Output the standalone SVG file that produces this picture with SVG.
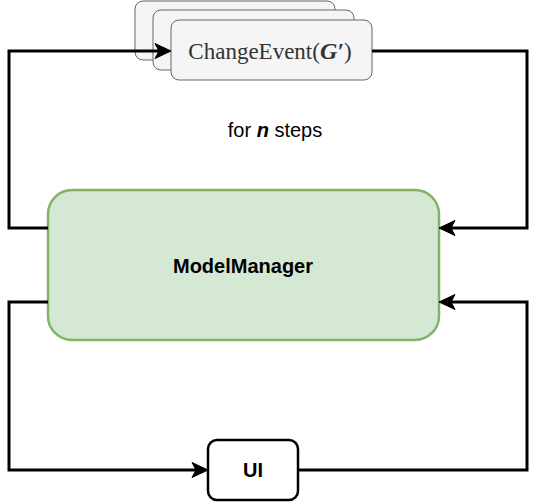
<svg xmlns="http://www.w3.org/2000/svg" width="540" height="502" viewBox="0 0 540 502">
  <style>
    .card { fill: #f5f5f5; stroke: #666666; stroke-width: 1; }
    .conn { fill: none; stroke: #000000; stroke-width: 3; stroke-linejoin: miter; }
    .lbl { font-family: "Liberation Sans", Arial, sans-serif; font-size: 20px; fill: #000000; }
    .serif { font-family: "Liberation Serif", "Times New Roman", serif; font-size: 23px; fill: #333333; }
  </style>
  <defs>
    <marker id="arrow" viewBox="0 0 18 18" markerUnits="userSpaceOnUse" markerWidth="18" markerHeight="18" refX="11" refY="9" orient="auto">
      <path d="M17,9 L1,1.5 L5,9 L1,16.5 Z" fill="#000000" stroke="#000000" stroke-width="1"/>
    </marker>
  </defs>

  <g id="change-event">
    <rect class="card" x="135" y="1" width="200" height="59" rx="8"/>
    <rect class="card" x="153" y="10" width="201" height="60" rx="8"/>
    <rect class="card" x="171" y="20" width="201" height="60" rx="8"/>
    <text class="serif" x="270" y="59" text-anchor="middle">ChangeEvent(<tspan font-style="italic" font-weight="bold" font-size="24">G′</tspan>)</text>
  </g>

  <g id="for-n-steps">
    <text class="lbl" x="275" y="137" text-anchor="middle">for <tspan font-weight="bold" font-style="italic">n</tspan> steps</text>
  </g>

  <g id="model-manager">
    <rect x="48" y="190" width="391" height="150" rx="24" fill="#d5e8d4" stroke="#82b366" stroke-width="2.5"/>
    <text class="lbl" x="243" y="273" text-anchor="middle" font-weight="bold">ModelManager</text>
  </g>

  <g id="ui">
    <rect x="208" y="440" width="90" height="60" rx="9" fill="#ffffff" stroke="#000000" stroke-width="2.5"/>
    <text class="lbl" x="253" y="477" text-anchor="middle" font-weight="bold">UI</text>
  </g>

  <g id="connectors">
    <path class="conn" d="M48,228 H9 V51 H165" marker-end="url(#arrow)"/>
    <path class="conn" d="M372,51 H527 V228 H445" marker-end="url(#arrow)"/>
    <path class="conn" d="M48,302 H9 V470 H202" marker-end="url(#arrow)"/>
    <path class="conn" d="M298,470 H527 V302 H445" marker-end="url(#arrow)"/>
  </g>
</svg>
